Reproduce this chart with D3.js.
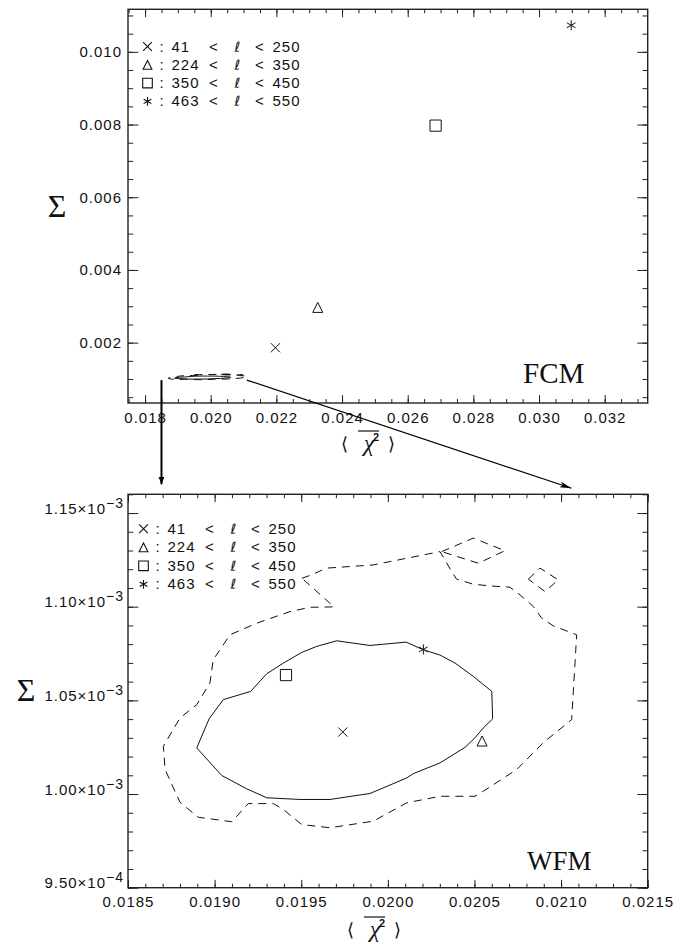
<!DOCTYPE html>
<html>
<head>
<meta charset="utf-8">
<script src="https://cdn.jsdelivr.net/npm/d3@7"></script>
<style>
  body { margin: 0; background: #fff; }
</style>
</head>
<body>
<svg id="chart" width="689" height="944"></svg>
<script>
// FCM (top) points, one per multipole range
const fcmChi = [0.02197, 0.02326, 0.02685, 0.03098];
const fcmSigma = [0.00186, 0.00297, 0.00797, 0.01073];
// WFM (bottom) points
const wfmChi = [0.01974, 0.020544, 0.019412, 0.020205];
const wfmSigma = [0.0010331, 0.0010283, 0.0010635, 0.0010772];

const symbols = ["x", "triangle", "square", "star"];
const ellLow = [" 41", "224", "350", "463"];
const ellHigh = ["250", "350", "450", "550"];

// WFM confidence contours [chi, sigma]
const innerContour = [
  [0.018897, 0.0010246], [0.018968, 0.0010401], [0.019050, 0.0010504], [0.019208, 0.0010548],
  [0.019301, 0.0010642], [0.019397, 0.0010699], [0.019503, 0.0010756], [0.019589, 0.0010788],
  [0.019705, 0.0010818], [0.019897, 0.0010793], [0.020105, 0.0010811], [0.020205, 0.0010770],
  [0.020301, 0.0010742], [0.020388, 0.0010699], [0.020493, 0.0010628], [0.020600, 0.0010548],
  [0.020605, 0.0010401], [0.020551, 0.0010353], [0.020503, 0.0010300], [0.020445, 0.0010249],
  [0.020301, 0.0010166], [0.020147, 0.0010109], [0.020109, 0.0010086], [0.019897, 0.0010003],
  [0.019666, 0.0009971], [0.019493, 0.0009971], [0.019301, 0.0009980], [0.019185, 0.0010028],
  [0.019041, 0.0010099]
];
const outerContour = [
  [0.019504, 0.0011152], [0.019551, 0.0011167], [0.019647, 0.0011206], [0.019916, 0.0011223],
  [0.020301, 0.0011294], [0.020369, 0.0011187], [0.020397, 0.0011147], [0.020493, 0.0011120],
  [0.020590, 0.0011111], [0.020705, 0.0011104], [0.020763, 0.0011063], [0.020840, 0.0011001],
  [0.020888, 0.0010939], [0.020955, 0.0010898], [0.021090, 0.0010850], [0.021061, 0.0010397],
  [0.020897, 0.0010274], [0.020744, 0.0010131], [0.020551, 0.0010015], [0.020503, 0.0009988],
  [0.020301, 0.0009988], [0.020109, 0.0009953], [0.019916, 0.0009855], [0.019666, 0.0009820],
  [0.019503, 0.0009837], [0.019397, 0.0009917], [0.019339, 0.0009949], [0.019194, 0.0009949],
  [0.019099, 0.0009852], [0.018906, 0.0009876], [0.018800, 0.0009956], [0.018714, 0.0010131],
  [0.018704, 0.0010255], [0.018800, 0.0010406], [0.018897, 0.0010477], [0.018973, 0.0010593],
  [0.018992, 0.0010717], [0.019089, 0.0010850], [0.019243, 0.0010912], [0.019435, 0.0010974],
  [0.019551, 0.0010997], [0.019689, 0.0010999]
];
const islandA = [[0.020311, 0.0011294], [0.020493, 0.0011366], [0.020676, 0.0011299], [0.020522, 0.0011232]];
const islandB = [[0.020811, 0.0011147], [0.020878, 0.0011206], [0.020984, 0.0011143], [0.020907, 0.0011081]];

const fcmXTicks = [0.018, 0.020, 0.022, 0.024, 0.026, 0.028, 0.030, 0.032];
const fcmXLabels = ["0.018", "0.020", "0.022", "0.024", "0.026", "0.028", "0.030", "0.032"];
const fcmYTicks = [0.002, 0.004, 0.006, 0.008, 0.010];
const fcmYLabels = ["0.002", "0.004", "0.006", "0.008", "0.010"];
const wfmXTicks = [0.0185, 0.0190, 0.0195, 0.0200, 0.0205, 0.0210, 0.0215];
const wfmXLabels = ["0.0185", "0.0190", "0.0195", "0.0200", "0.0205", "0.0210", "0.0215"];
const wfmYTicks = [0.00095, 0.00100, 0.00105, 0.00110, 0.00115];
const wfmYMant = ["9.50", "1.00", "1.05", "1.10", "1.15"];
const wfmYExp = ["\u22124", "\u22123", "\u22123", "\u22123", "\u22123"];

const SANS = "'Liberation Sans', Arial, Helvetica, sans-serif";
const SERIF = "'Liberation Serif', 'Times New Roman', serif";
const FS = 15, LS = 1;

const svg = d3.select("#chart");

const defs = svg.append("defs");
defs.append("marker").attr("id", "headV")
    .attr("markerUnits", "userSpaceOnUse")
    .attr("viewBox", "0 0 10 8").attr("refX", 10).attr("refY", 4)
    .attr("markerWidth", 8).attr("markerHeight", 6).attr("orient", "auto")
    .append("path").attr("d", "M0,0 L10,4 L0,8 Z").attr("fill", "#000");
defs.append("marker").attr("id", "headD")
    .attr("markerUnits", "userSpaceOnUse")
    .attr("viewBox", "0 0 12 6").attr("refX", 12).attr("refY", 3)
    .attr("markerWidth", 12).attr("markerHeight", 6).attr("orient", "auto")
    .append("path").attr("d", "M0,0 L12,3 L0,6 L3,3 Z").attr("fill", "#000");

function markerPath(type, r) {
    if (type === "x") return `M${-r},${-r}L${r},${r}M${-r},${r}L${r},${-r}`;
    if (type === "triangle") return `M0,${-r}L${r},${r}L${-r},${r}Z`;
    if (type === "square") return `M${-r},${-r}H${r}V${r}H${-r}Z`;
    const a = r * 0.87, b = r * 0.5;
    return `M0,${-r}V${r}M${-a},${-b}L${a},${b}M${-a},${b}L${a},${-b}`;
}
const markerSize = {x: 4.6, triangle: 5, square: 5.6, star: 5};

function drawPanel(cfg) {
    const g = svg.append("g");
    const x = d3.scaleLinear().domain(cfg.xDomain).range([cfg.left, cfg.right]);
    const y = d3.scaleLinear().domain(cfg.yDomain).range([cfg.bottom, cfg.top]);
    const xLen = 0.02 * (cfg.bottom - cfg.top);
    const yLen = 0.02 * (cfg.right - cfg.left);

    const xMinor = d3.range(cfg.xMinor[0], cfg.xMinor[1] + 1e-9, cfg.xMinor[2])
        .filter(function(v) { return v >= cfg.xDomain[0] && v <= cfg.xDomain[1]; });
    const yMinor = d3.range(cfg.yMinor[0], cfg.yMinor[1] + 1e-12, cfg.yMinor[2])
        .filter(function(v) { return v >= cfg.yDomain[0] && v <= cfg.yDomain[1]; });

    function clean(sel) {
        sel.select(".domain").remove();
        sel.selectAll(".tick line").attr("stroke", "#222").attr("stroke-width", 1);
        sel.attr("font-family", SANS).attr("font-size", FS);
        sel.selectAll("text").attr("fill", "#111").attr("letter-spacing", LS);
    }

    // minor ticks on all sides
    g.append("g").attr("transform", `translate(0,${cfg.bottom})`)
        .call(d3.axisBottom(x).tickValues(xMinor).tickSize(-xLen / 2).tickFormat("")).call(clean);
    g.append("g").attr("transform", `translate(0,${cfg.top})`)
        .call(d3.axisTop(x).tickValues(xMinor).tickSize(-xLen / 2).tickFormat("")).call(clean);
    g.append("g").attr("transform", `translate(${cfg.left},0)`)
        .call(d3.axisLeft(y).tickValues(yMinor).tickSize(-yLen / 2).tickFormat("")).call(clean);
    g.append("g").attr("transform", `translate(${cfg.right},0)`)
        .call(d3.axisRight(y).tickValues(yMinor).tickSize(-yLen / 2).tickFormat("")).call(clean);

    // major ticks
    g.append("g").attr("transform", `translate(0,${cfg.bottom})`)
        .call(d3.axisBottom(x).tickValues(cfg.xTicks).tickSize(-xLen).tickPadding(9)
            .tickFormat(function(d, i) { return cfg.xLabels[i]; }))
        .call(clean);
    g.append("g").attr("transform", `translate(0,${cfg.top})`)
        .call(d3.axisTop(x).tickValues(cfg.xTicks).tickSize(-xLen).tickFormat("")).call(clean);
    const yAxis = g.append("g").attr("transform", `translate(${cfg.left},0)`)
        .call(d3.axisLeft(y).tickValues(cfg.yTicks).tickSize(-yLen).tickPadding(6)
            .tickFormat(function(d, i) { return cfg.yLabels ? cfg.yLabels[i] : ""; }))
        .call(clean);
    g.append("g").attr("transform", `translate(${cfg.right},0)`)
        .call(d3.axisRight(y).tickValues(cfg.yTicks).tickSize(-yLen).tickFormat("")).call(clean);

    if (cfg.yMant) {
        yAxis.selectAll(".tick").append("text")
            .attr("x", -4).attr("y", 0)
            .attr("text-anchor", "end")
            .attr("fill", "#111")
            .attr("letter-spacing", LS)
            .each(function(d, i) {
                const t = d3.select(this);
                t.append("tspan").text(cfg.yMant[i] + "\u00d710");
                t.append("tspan").attr("dy", -6).attr("font-size", 14).text(cfg.yExp[i]);
            });
    }

    g.append("rect")
        .attr("x", cfg.left).attr("y", cfg.top)
        .attr("width", cfg.right - cfg.left).attr("height", cfg.bottom - cfg.top)
        .attr("fill", "none").attr("stroke", "#222").attr("stroke-width", 1.4);

    return {g: g, x: x, y: y};
}

function drawContours(p) {
    const line = d3.line()
        .x(function(d) { return p.x(d[0]); })
        .y(function(d) { return p.y(d[1]); })
        .curve(d3.curveLinearClosed);
    p.g.append("path").attr("d", line(innerContour))
        .attr("fill", "none").attr("stroke", "#111").attr("stroke-width", 1);
    [outerContour, islandA, islandB].forEach(function(c) {
        p.g.append("path").attr("d", line(c))
            .attr("fill", "none").attr("stroke", "#111").attr("stroke-width", 1)
            .attr("stroke-dasharray", "8,6");
    });
}

function drawPoints(p, xs, ys) {
    p.g.selectAll("path.pt")
        .data(symbols)
        .enter()
        .append("path")
        .attr("class", "pt")
        .attr("transform", function(d, i) { return `translate(${p.x(xs[i])},${p.y(ys[i])})`; })
        .attr("d", function(d) { return markerPath(d, markerSize[d]); })
        .attr("fill", "none")
        .attr("stroke", "#111")
        .attr("stroke-width", 1);
}

function drawLegend(p, x0, y0, dy) {
    const rows = p.g.selectAll("g.leg")
        .data(symbols)
        .enter()
        .append("g")
        .attr("class", "leg")
        .attr("transform", function(d, i) { return `translate(${x0},${y0 + i * dy})`; })
        .attr("font-family", SANS)
        .attr("font-size", FS)
        .attr("fill", "#111");
    rows.append("path")
        .attr("transform", "translate(0,-5)")
        .attr("d", function(d) { return markerPath(d, d === "square" ? 4.8 : 4.4); })
        .attr("fill", "none").attr("stroke", "#111").attr("stroke-width", 1.1);
    rows.append("text").attr("x", 14).attr("text-anchor", "middle").text(":");
    rows.append("text").attr("x", 24).attr("letter-spacing", LS)
        .text(function(d, i) { return ellLow[i]; });
    rows.append("text").attr("x", 66).attr("text-anchor", "middle").text("<");
    rows.append("text").attr("x", 90).attr("text-anchor", "middle").attr("font-family", "'DejaVu Sans', sans-serif")
        .attr("font-size", 14).attr("font-style", "italic").text("\u2113");
    rows.append("text").attr("x", 112).attr("text-anchor", "middle").text("<");
    rows.append("text").attr("x", 125).attr("letter-spacing", LS)
        .text(function(d, i) { return ellHigh[i]; });
}

function drawChiLabel(cx, yBar) {
    const g = svg.append("g").attr("fill", "#111");
    g.append("text").attr("x", cx - 23).attr("y", yBar + 19).attr("text-anchor", "middle")
        .attr("font-family", SERIF).attr("font-size", 18).text("\u27e8");
    g.append("text").attr("x", cx + 2).attr("y", yBar + 20).attr("text-anchor", "middle")
        .attr("font-family", SERIF).attr("font-style", "italic").attr("font-size", 24).text("\u03c7");
    g.append("line").attr("x1", cx - 9).attr("x2", cx + 12).attr("y1", yBar).attr("y2", yBar)
        .attr("stroke", "#111").attr("stroke-width", 1.2);
    g.append("text").attr("x", cx + 9).attr("y", yBar + 10).attr("text-anchor", "middle")
        .attr("font-family", SANS).attr("font-weight", "bold").attr("font-size", 11).text("2");
    g.append("text").attr("x", cx + 24).attr("y", yBar + 19).attr("text-anchor", "middle")
        .attr("font-family", SERIF).attr("font-size", 18).text("\u27e9");
}

// top panel
const fcm = drawPanel({
    left: 128, right: 647.7, top: 9.3, bottom: 403,
    xDomain: [0.01748, 0.03331], yDomain: [0.00034, 0.01117],
    xTicks: fcmXTicks, xLabels: fcmXLabels, xMinor: [0.0175, 0.0335, 0.0005],
    yTicks: fcmYTicks, yLabels: fcmYLabels, yMinor: [0.0005, 0.011, 0.0005]
});
drawContours(fcm);
drawPoints(fcm, fcmChi, fcmSigma);
drawLegend(fcm, 147.5, 51.5, 18.3);
fcm.g.append("text").attr("x", 523).attr("y", 383)
    .attr("font-family", SERIF).attr("font-size", 29).attr("fill", "#111").text("FCM");
svg.append("text").attr("x", 57).attr("y", 217).attr("text-anchor", "middle")
    .attr("font-family", SERIF).attr("font-size", 32).attr("fill", "#111").text("\u03a3");
drawChiLabel(367, 431);

// bottom panel
const wfm = drawPanel({
    left: 128, right: 647.7, top: 494.3, bottom: 887.7,
    xDomain: [0.0185, 0.0215], yDomain: [0.00095, 0.00116],
    xTicks: wfmXTicks, xLabels: wfmXLabels, xMinor: [0.0185, 0.0215, 0.0001],
    yTicks: wfmYTicks, yMant: wfmYMant, yExp: wfmYExp, yMinor: [0.00095, 0.00116, 0.00001]
});
drawContours(wfm);
drawPoints(wfm, wfmChi, wfmSigma);
drawLegend(wfm, 143.5, 533.8, 18.5);
wfm.g.append("text").attr("x", 527).attr("y", 870)
    .attr("font-family", SERIF).attr("font-size", 27).attr("fill", "#111").text("WFM");
svg.append("text").attr("x", 26).attr("y", 701).attr("text-anchor", "middle")
    .attr("font-family", SERIF).attr("font-size", 32).attr("fill", "#111").text("\u03a3");
drawChiLabel(373, 917);

// zoom arrows from the top panel's contour box to the bottom panel
svg.append("line")
    .attr("x1", fcm.x(0.0185)).attr("y1", fcm.y(0.00097))
    .attr("x2", fcm.x(0.0185)).attr("y2", wfm.y(0.00116) - 10)
    .attr("stroke", "#000").attr("stroke-width", 2)
    .attr("marker-end", "url(#headV)");
svg.append("line")
    .attr("x1", fcm.x(0.0211)).attr("y1", fcm.y(0.00097))
    .attr("x2", wfm.x(0.02106)).attr("y2", wfm.y(0.00116) - 6)
    .attr("stroke", "#000").attr("stroke-width", 1.2)
    .attr("marker-end", "url(#headD)");
</script>
</body>
</html>
